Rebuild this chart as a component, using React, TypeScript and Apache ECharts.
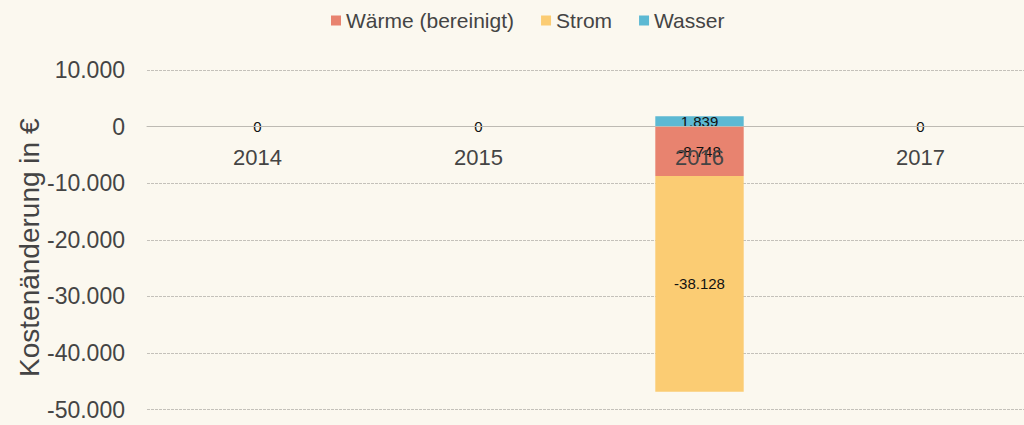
import React, { useEffect, useRef } from "react";
import * as echarts from "echarts";

const categories = ["2014", "2015", "2016", "2017"];
const waerme = [0, 0, -8748, 0];
const strom = [0, 0, -38128, 0];
const wasser = [0, 0, 1839, 0];
const yTicks = [-50000, -40000, -30000, -20000, -10000, 0, 10000];

const fmt = (v: number) => {
  const s = Math.abs(Math.round(v)).toString().replace(/\B(?=(\d{3})+(?!\d))/g, ".");
  return (v < 0 ? "-" : "") + s;
};

export default function App() {
  const ref = useRef<HTMLDivElement>(null);
  useEffect(() => {
    const chart = echarts.init(ref.current!, null, { renderer: "svg" });
    const font = "Liberation Sans, Arial, sans-serif";
    const mkLabel = (showZero: boolean) => ({
      show: true,
      position: "inside" as const,
      color: "#111",
      fontSize: 15,
      fontFamily: font,
      formatter: (p: any) => (p.value === 0 && !showZero ? "" : fmt(p.value)),
    });
    const gridTop = 70;
    const gridBottom = 15.5;
    const plotH = 425 - gridTop - gridBottom;
    const zeroOffset = -(plotH * (0 - yTicks[0])) / (yTicks[yTicks.length - 1] - yTicks[0]);
    chart.setOption({
      animation: false,
      backgroundColor: "#fbf8ef",
      textStyle: { fontFamily: font },
      legend: {
        top: 5,
        left: 326,
        itemWidth: 10,
        itemHeight: 10,
        itemGap: 27,
        icon: "rect",
        textStyle: { fontSize: 21, color: "#444", fontFamily: font },
        data: ["Wärme (bereinigt)", "Strom", "Wasser"],
      },
      grid: { left: 147, width: 884, top: gridTop, bottom: gridBottom, outerBoundsMode: "none" },
      xAxis: {
        type: "category",
        data: categories,
        z: 5,
        offset: zeroOffset,
        axisTick: { show: false },
        axisLine: { onZero: false, lineStyle: { color: "#bdbab3", width: 1 } },
        axisLabel: { fontSize: 22, color: "#444", margin: 20, fontFamily: font },
      },
      yAxis: {
        type: "value",
        min: yTicks[0],
        max: yTicks[yTicks.length - 1],
        interval: 10000,
        name: "Kostenänderung in €",
        nameLocation: "middle",
        nameGap: 104,
        nameMoveOverlap: false,
        nameTextStyle: { fontSize: 28, color: "#444", fontFamily: font, padding: [0, 16, 0, 0] },
        axisLine: { show: false },
        axisTick: { show: false },
        axisLabel: { fontSize: 23, color: "#444", margin: 22, fontFamily: font, formatter: (v: number) => fmt(v) },
        splitLine: { lineStyle: { color: "#c4c1ba", width: 1, type: [3, 1] } },
      },
      series: [
        {
          name: "Wärme (bereinigt)",
          type: "bar",
          stack: "neg",
          data: waerme,
          barWidth: "40%",
          itemStyle: { color: "#e8836f" },
          label: mkLabel(false),
        },
        {
          name: "Strom",
          type: "bar",
          stack: "neg",
          data: strom,
          barWidth: "40%",
          itemStyle: { color: "#fbcc73" },
          label: mkLabel(false),
        },
        {
          name: "Wasser",
          type: "bar",
          stack: "pos",
          barGap: "-100%",
          data: wasser,
          barWidth: "40%",
          itemStyle: { color: "#5cb9d3" },
          label: mkLabel(true),
        },
      ],
    });
    return () => chart.dispose();
  }, []);
  return <div ref={ref} style={{ width: 1024, height: 425, position: "absolute", left: 0, top: 0 }} />;
}
